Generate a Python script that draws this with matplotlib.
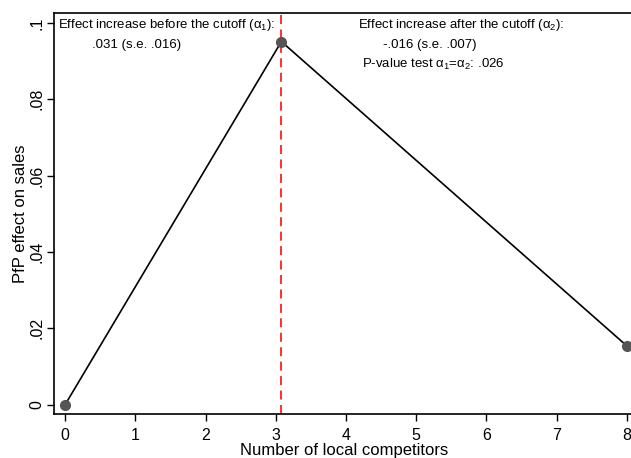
import numpy as np
import matplotlib
matplotlib.use("Agg")
import matplotlib.pyplot as plt

plt.rcParams['font.family'] = ['Liberation Sans', 'DejaVu Sans']
plt.rcParams['mathtext.fontset'] = 'custom'
plt.rcParams['mathtext.rm'] = 'Liberation Sans'
plt.rcParams['mathtext.it'] = 'Liberation Sans'

# Data
competitors = [0, 3.08, 8]
pfp_effect = [0.0, 0.0951, 0.0154]
cutoff = 3.08
x_ticks = [0, 1, 2, 3, 4, 5, 6, 7, 8]
y_ticks = [0, 0.02, 0.04, 0.06, 0.08, 0.1]
y_ticklabels = ["0", ".02", ".04", ".06", ".08", ".1"]

fig = plt.figure(figsize=(6.31, 4.58), dpi=100)
ax = fig.add_axes([54 / 631, 44 / 458, 580 / 631, 400.7 / 458])

ax.axvline(cutoff, color='#ff2020', linestyle=(0, (5, 3)), linewidth=1.3, zorder=1)
ax.plot(competitors, pfp_effect, color='black', linewidth=1.2, zorder=2)
ax.plot(competitors, pfp_effect, 'o', color='#555555', markersize=7, zorder=3, clip_on=False)

ax.set_xlim(-0.157, 8.1)
ax.set_ylim(-0.0024, 0.1025)
ax.set_xticks(x_ticks)
ax.set_yticks(y_ticks)
ax.set_yticklabels(y_ticklabels, rotation=90, va='center')
ax.tick_params(axis='both', direction='out', length=5, width=1, labelsize=11.5)
ax.tick_params(axis='x', pad=5)
ax.tick_params(axis='y', pad=2)
ax.spines['right'].set_visible(False)
for s in ['left', 'bottom', 'top']:
    ax.spines[s].set_linewidth(1.2)

ax.set_xlabel("Number of local competitors", fontsize=12, labelpad=0)
ax.set_ylabel("PfP effect on sales", fontsize=12, labelpad=1)

fs = 9.5
ax.text(-0.10, 0.0995, "Effect increase before the cutoff (α$_1$):", fontsize=fs, va='center')
ax.text(0.384, 0.0942, ".031 (s.e. .016)", fontsize=fs, va='center')
ax.text(4.17, 0.0995, "Effect increase after the cutoff (α$_2$):", fontsize=fs, va='center')
ax.text(4.53, 0.0942, "-.016 (s.e. .007)", fontsize=fs, va='center')
ax.text(4.23, 0.0890, "P-value test α$_1$=α$_2$: .026", fontsize=fs, va='center')

fig.savefig("out.png", dpi=100)
